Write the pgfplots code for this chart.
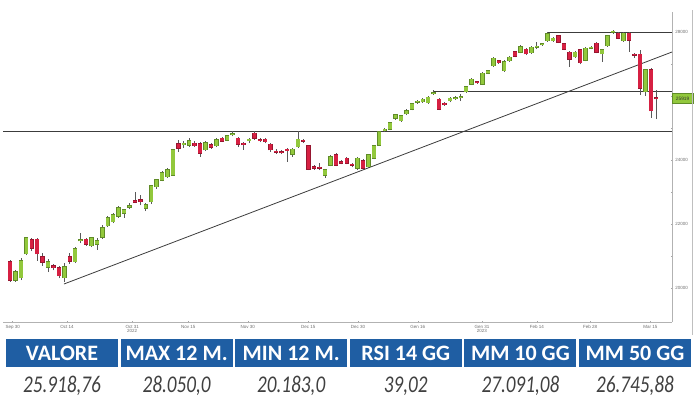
\documentclass[border=0pt]{standalone}
\usepackage{fontspec}
\setmainfont{Carlito}
\newfontfamily\tickfont{Liberation Sans}
\usepackage{graphicx}
\usepackage{pgfplots}
\usepackage{pgfplotstable}
\pgfplotsset{compat=1.18}

\definecolor{cgreen}{RGB}{146,200,60}
\definecolor{cgreendk}{RGB}{96,140,40}
\definecolor{cred}{RGB}{214,32,66}
\definecolor{creddk}{RGB}{150,22,48}
\definecolor{hdrblue}{RGB}{31,94,163}
\definecolor{tickgray}{RGB}{110,110,110}
\definecolor{linegray}{RGB}{60,60,60}

% daily candles: index, open, high, low, close
\pgfplotstableread{
i o h l c
0 20822 20880 20200 20250
1 20250 20560 20190 20510
2 20313 20940 20250 20844
3 21063 21600 21030 21563
4 21500 21560 21150 21250
5 21530 21560 20850 21063
6 20978 21100 20700 20803
7 20647 20900 20500 20822
8 20697 20750 20550 20634
9 20625 20680 20300 20385
10 20322 20780 20183 20666
11 20978 21100 20760 20844
12 20822 21280 20780 21219
13 21470 21720 21400 21510
14 21530 21560 21320 21375
15 21313 21600 21280 21572
16 21366 21550 21190 21469
17 21584 21960 21530 21884
18 21938 22250 21900 22188
19 22072 22330 22030 22281
20 22250 22560 22200 22509
21 22334 22470 22190 22438
22 22530 22650 22480 22565
23 22719 23000 22650 22678
24 22750 22900 22580 22697
25 22490 22650 22400 22594
26 22697 23200 22620 23188
27 23166 23420 23100 23375
28 23375 23650 23330 23603
29 23478 23740 23440 23688
30 23531 24340 23500 24313
31 24500 24620 24250 24366
32 24480 24600 24380 24520
33 24469 24680 24400 24594
34 24522 24580 24420 24447
35 24500 24560 24103 24209
36 24313 24590 24280 24541
37 24469 24520 24350 24397
38 24438 24680 24400 24625
39 24678 24720 24560 24594
40 24625 24790 24590 24760
41 24785 24906 24740 24820
42 24678 24720 24400 24491
43 24520 24560 24313 24480
44 24603 24700 24520 24647
45 24834 24906 24640 24678
46 24640 24690 24550 24605
47 24647 24700 24520 24572
48 24491 24540 24250 24313
49 24280 24330 24180 24245
50 24260 24300 24180 24225
51 24330 24370 23950 24295
52 24178 24380 24100 24334
53 24416 24906 24380 24647
54 24620 24660 24540 24585
55 24438 24470 23680 23709
56 23791 23830 23690 23741
57 23770 23900 23680 23735
58 23531 23720 23440 23688
59 23844 24160 23800 24103
60 24156 24220 23800 23844
61 23947 23990 23860 23897
62 24053 24100 23860 23897
63 23865 23900 23770 23830
64 23741 24080 23700 24053
65 23978 24020 23700 23741
66 23791 24180 23760 24156
67 24053 24470 24020 24438
68 24469 24920 24440 24884
69 24920 25000 24870 24955
70 24960 25200 24930 25166
71 25303 25440 25250 25406
72 25228 25400 25200 25375
73 25438 25580 25400 25541
74 25584 25780 25550 25750
75 25800 25880 25760 25835
76 25822 25930 25790 25897
77 25791 25990 25760 25959
78 26065 26190 26040 26100
79 25897 25940 25560 25584
80 25772 25800 25690 25719
81 25853 25960 25800 25928
82 25915 26010 25870 25950
83 25945 26050 25840 25980
84 26134 26320 26100 26291
85 26375 26560 26340 26522
86 26447 26480 26380 26410
87 26375 26740 26340 26709
88 26709 26820 26680 26791
89 26938 27220 26900 27178
90 27103 27140 27000 27041
91 26791 27110 26760 27072
92 27103 27260 27070 27209
93 27384 27420 27210 27250
94 27366 27600 27330 27541
95 27459 27500 27280 27313
96 27353 27560 27320 27522
97 27525 27700 27460 27560
98 27595 27650 27570 27630
99 27728 28000 27700 27938
100 27728 27830 27700 27803
101 27884 27920 27650 27678
102 27625 27660 27430 27459
103 27366 27400 26916 27156
104 27228 27400 27190 27366
105 27438 27480 26990 27041
106 27125 27530 27080 27491
107 27495 27560 27460 27530
108 27647 27700 27330 27366
109 27313 27470 27072 27438
110 27572 27910 27540 27875
111 27985 28050 27940 28020
112 27959 28000 27770 27803
113 27728 28000 27690 27959
114 27959 28000 27384 27750
115 27310 27350 27200 27270
116 27303 27437 26031 26241
117 26134 26850 26000 26813
118 26813 26880 25313 25541
119 25950 26188 25281 25918.76
}\candles

\pgfplotsset{
  candle/.style={draw=none, mark=none, forget plot,
    error bars/y dir=plus, error bars/y explicit, error bars/error mark=none},
}

\begin{document}
\begin{tikzpicture}[x=1pt,y=1pt]
\begin{axis}[
  at={(3pt,78pt)}, anchor=south west,
  scale only axis, width=669pt, height=310pt,
  xmin=-1.29, xmax=121.9, ymin=18937.5, ymax=28625,
  axis x line*=bottom, axis y line*=right,
  axis line style={draw=gray!60, line width=0.8pt},
  clip=false,
  xtick={0.5,10.5,22.5,32.8,43.8,54.9,64.1,75.1,86.9,97,106.8,117.9},
  xticklabels={Sep 30,Oct 14,{Oct 31\\2022},Nov 15,Nov 30,Dec 15,Dec 30,Gen 16,{Gen 31\\2023},Feb 14,Feb 28,Mar 15},
  minor x tick num=1,
  ytick={20000,22000,24000,26000,28000},
  yticklabels={20000,22000,24000,,28000},
  minor ytick={21000,23000,25000,27000},
  scaled y ticks=false,
  tick style={draw=gray!70, line width=0.5pt},
  major tick length=2.5pt, minor tick length=2pt,
  tick align=center,
  xticklabel style={font=\tickfont\fontsize{4.5}{4.8}\selectfont, text=tickgray, align=center, inner sep=1.5pt},
  yticklabel style={font=\tickfont\fontsize{4.5}{5}\selectfont, text=tickgray, inner sep=2pt},
]
% reference levels and trend line
\addplot[linegray, line width=0.9pt] coordinates {(-1.29,24906) (121.9,24906)};
\addplot[linegray, line width=0.9pt] coordinates {(78,26156) (121.9,26156)};
\addplot[linegray, line width=0.9pt] coordinates {(98.9,28000) (121.9,28000)};
\addplot[linegray, line width=0.8pt] coordinates {(9.94,20125) (121.9,27375)};
% wicks
\addplot[candle, error bars/error bar style={draw=gray!70!black, line width=0.6pt}]
  table[x=i, y=l, y error expr=\thisrow{h}-\thisrow{l}] {\candles};
% green bodies (outline, then fill)
\addplot[candle, restrict expr to domain={\thisrow{c}-\thisrow{o}}{0:100000},
  error bars/error bar style={draw=cgreendk, line width=4.4pt}]
  table[x=i, y expr=\thisrow{o}-16, y error expr=\thisrow{c}-\thisrow{o}+32] {\candles};
\addplot[candle, restrict expr to domain={\thisrow{c}-\thisrow{o}}{0:100000},
  error bars/error bar style={draw=cgreen, line width=3.4pt}]
  table[x=i, y=o, y error expr=\thisrow{c}-\thisrow{o}] {\candles};
% red bodies (outline, then fill)
\addplot[candle, restrict expr to domain={\thisrow{o}-\thisrow{c}}{0.001:100000},
  error bars/error bar style={draw=creddk, line width=4.4pt}]
  table[x=i, y expr=\thisrow{c}-16, y error expr=\thisrow{o}-\thisrow{c}+32] {\candles};
\addplot[candle, restrict expr to domain={\thisrow{o}-\thisrow{c}}{0.001:100000},
  error bars/error bar style={draw=cred, line width=3.4pt}]
  table[x=i, y=c, y error expr=\thisrow{o}-\thisrow{c}] {\candles};
% last price tag
\node[fill=cgreen, draw=cgreendk, line width=0.3pt, anchor=west, inner sep=0.8pt,
  minimum height=10pt, minimum width=21pt, text=black!80,
  font=\tickfont\fontsize{4.8}{5}\selectfont] at (axis cs:121.9,25918.76) {25919};
\end{axis}
% outer frame line at the right
\draw[gray!50, line width=0.6pt] (692,65) -- (692,390);
% summary table
\foreach \k/\h/\v in {0/VALORE/{25.918,76}, 1/MAX 12 M./{28.050,0}, 2/MIN 12 M./{20.183,0},
                      3/RSI 14 GG/{39,02}, 4/MM 10 GG/{27.091,08}, 5/MM 50 GG/{26.745,88}} {
  \fill[hdrblue] ({6+114.6*\k},33) rectangle ({118+114.6*\k},61);
  \node[text=white, font=\bfseries\fontsize{22}{24}\selectfont, inner sep=0pt]
    at ({62+114.6*\k},47) {\h};
  \node[anchor=base, text=black!75, font=\itshape\fontsize{24}{26}\selectfont, inner sep=0pt]
    at ({62+114.6*\k},8) {\scalebox{0.8}[1]{\v}};
}
\pgfresetboundingbox
\path[use as bounding box] (0,0) rectangle (700,400);
\end{tikzpicture}
\end{document}
